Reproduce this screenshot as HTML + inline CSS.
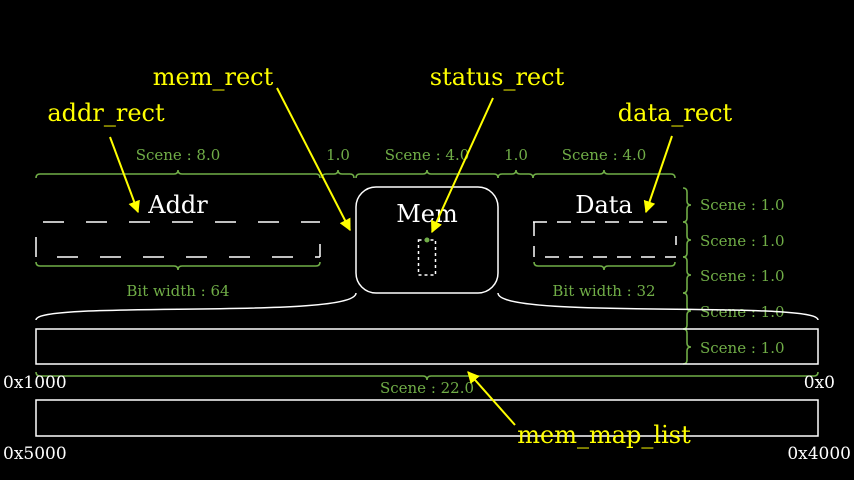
<!DOCTYPE html>
<html><head><meta charset="utf-8"><style>html,body{margin:0;padding:0;background:#000}svg{display:block}</style></head><body>
<svg width="854" height="480" viewBox="0 0 854 480" xmlns="http://www.w3.org/2000/svg" font-family="DejaVu Serif, serif">
<defs><marker id="a" viewBox="0 0 10 10" refX="9" refY="5" markerWidth="6" markerHeight="6" orient="auto"><path d="M0,0L10,5L0,10z" fill="#ff0"/></marker></defs>
<rect width="854" height="480" fill="#000"/>
<g fill="none" stroke="#70ad47" stroke-width="1.6">
<path d="M36,178 Q36,174 40,174 L174,174 Q178,174 178,170 Q178,174 182,174 L316,174 Q320,174 320,178"/>
<path d="M322,178 Q322,174 326,174 L334,174 Q338,174 338,170 Q338,174 342,174 L350,174 Q354,174 354,178"/>
<path d="M356,178 Q356,174 360,174 L423,174 Q427,174 427,170 Q427,174 431,174 L494,174 Q498,174 498,178"/>
<path d="M498,178 Q498,174 502,174 L512,174 Q516,174 516,170 Q516,174 520,174 L529,174 Q533,174 533,178"/>
<path d="M533,178 Q533,174 537,174 L600,174 Q604,174 604,170 Q604,174 608,174 L671,174 Q675,174 675,178"/>
<path d="M36,262 Q36,266 40,266 L174,266 Q178,266 178,270 Q178,266 182,266 L316,266 Q320,266 320,262"/>
<path d="M534,262 Q534,266 538,266 L600,266 Q604,266 604,270 Q604,266 608,266 L671,266 Q675,266 675,262"/>
<path d="M36,372 Q36,376 40,376 L423,376 Q427,376 427,380 Q427,376 431,376 L814,376 Q818,376 818,372"/>
<path d="M683,188 Q687,188 687,192 L687,201 Q687,205 691,205 Q687,205 687,209 L687,218 Q687,222 683,222"/>
<path d="M683,222 Q687,222 687,226 L687,236 Q687,240 691,240 Q687,240 687,244 L687,253 Q687,257 683,257"/>
<path d="M683,257 Q687,257 687,261 L687,271 Q687,275 691,275 Q687,275 687,279 L687,289 Q687,293 683,293"/>
<path d="M683,293 Q687,293 687,297 L687,307 Q687,311 691,311 Q687,311 687,315 L687,325 Q687,329 683,329"/>
<path d="M683,329 Q687,329 687,333 L687,343 Q687,347 691,347 Q687,347 687,351 L687,360 Q687,364 683,364"/>
</g>
<g fill="#70ad47" font-size="15" text-anchor="middle">
<text x="178" y="160">Scene : 8.0</text><text x="338" y="160">1.0</text>
<text x="427" y="160">Scene : 4.0</text><text x="516" y="160">1.0</text>
<text x="604" y="160">Scene : 4.0</text>
<text x="178" y="296">Bit width : 64</text><text x="604" y="296">Bit width : 32</text>
<text x="427" y="393">Scene : 22.0</text>
<g text-anchor="start"><text x="700" y="210">Scene : 1.0</text><text x="700" y="246">Scene : 1.0</text><text x="700" y="281">Scene : 1.0</text><text x="700" y="317">Scene : 1.0</text><text x="700" y="353">Scene : 1.0</text></g>
</g>
<g fill="none" stroke="#fff" stroke-width="1.5">
<path d="M43,222H320" stroke-dasharray="21,22"/>
<path d="M36,237V257M320,244V257"/>
<path d="M57,257H320" stroke-dasharray="21,22"/>
<rect x="356" y="187" width="142" height="106" rx="20"/>
<rect x="418.5" y="240" width="17" height="35" stroke-dasharray="3,3"/>
<path d="M533,222H676" stroke-dasharray="14,10"/>
<path d="M534,222V257" stroke-dasharray="14,10"/>
<path d="M676,236V245"/>
<path d="M545,257H676" stroke-dasharray="14,10"/>
<path d="M356,293 C356,320 36,300 36,320"/>
<path d="M498,293 C498,320 818,300 818,320"/>
<rect x="36" y="329" width="782" height="35"/>
<rect x="36" y="400" width="782" height="36"/>
</g>
<circle cx="427" cy="240" r="2.5" fill="#70ad47"/>
<g fill="#fff" font-size="24" text-anchor="middle">
<text x="178" y="213">Addr</text><text x="427" y="222">Mem</text><text x="604" y="213">Data</text>
</g>
<g fill="#fff" font-size="17">
<text x="3" y="388">0x1000</text><text x="835" y="388" text-anchor="end">0x0</text>
<text x="3" y="459">0x5000</text><text x="851" y="459" text-anchor="end">0x4000</text>
</g>
<g stroke="#ff0" stroke-width="2" marker-end="url(#a)">
<line x1="110" y1="137" x2="138" y2="212"/>
<line x1="277" y1="88" x2="350" y2="230"/>
<line x1="493" y1="98" x2="432" y2="232"/>
<line x1="672" y1="136" x2="646" y2="212"/>
<line x1="515" y1="425" x2="468" y2="372"/>
</g>
<g fill="#ff0" font-size="24" text-anchor="middle">
<text x="213" y="85">mem_rect</text><text x="497" y="85">status_rect</text>
<text x="106" y="121">addr_rect</text><text x="675" y="121">data_rect</text>
<text x="604" y="443">mem_map_list</text>
</g>
</svg>
</body></html>
